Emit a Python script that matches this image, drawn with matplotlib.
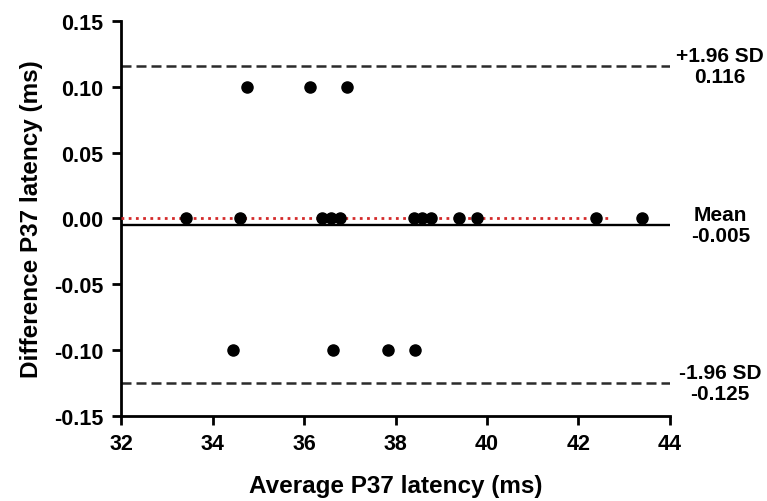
import matplotlib
matplotlib.use("Agg")
import matplotlib.pyplot as plt
import numpy as np

plt.rcParams['font.family'] = ['Liberation Sans', 'DejaVu Sans']
plt.rcParams['font.weight'] = 'bold'
plt.rcParams['axes.unicode_minus'] = False

# Bland-Altman data: mean of the two measurements vs. their difference
avg_latency = [34.75, 36.13, 36.93,
               33.41, 34.59, 36.39, 36.59, 36.79, 38.40, 38.59, 38.78,
               39.39, 39.78, 42.39, 43.38,
               34.44, 36.64, 37.83, 38.43]
diff_latency = [0.10, 0.10, 0.10,
                0.0, 0.0, 0.0, 0.0, 0.0, 0.0, 0.0, 0.0,
                0.0, 0.0, 0.0, 0.0,
                -0.10, -0.10, -0.10, -0.10]

bias = -0.005
upper_loa = 0.116
lower_loa = -0.125
zero_line_end = 42.65

x_ticks = [32, 34, 36, 38, 40, 42, 44]
y_ticks = [-0.15, -0.10, -0.05, 0.00, 0.05, 0.10, 0.15]

fig = plt.figure(figsize=(7.67, 5.02), dpi=100)
ax = fig.add_axes([0.1578, 0.1693, 0.8735 - 0.1578, 0.9562 - 0.1693])

# limits of agreement and bias
ax.plot([32, 44], [upper_loa, upper_loa], color='#2b2b2b', lw=1.8,
        dashes=(4, 2), zorder=2)
ax.plot([32, 44], [lower_loa, lower_loa], color='#2b2b2b', lw=1.8,
        dashes=(4, 2), zorder=2)
ax.plot([32, 44], [bias, bias], color='black', lw=1.7, zorder=2)

# zero-difference reference
ax.plot([32, zero_line_end], [0, 0], color='#d42a2a', lw=2.0,
        linestyle=(0, (1, 1.6)), zorder=3)

ax.plot(avg_latency, diff_latency, 'o', color='black', markersize=8,
        zorder=4, clip_on=False)

ax.set_xlim(32, 44)
ax.set_ylim(-0.15, 0.15)
ax.set_xticks(x_ticks)
ax.set_xticklabels([str(t) for t in x_ticks])
ax.set_yticks(y_ticks)
ax.set_yticklabels([f'{t:.2f}' for t in y_ticks])

for side in ['top', 'right']:
    ax.spines[side].set_visible(False)
for side in ['left', 'bottom']:
    ax.spines[side].set_linewidth(2.0)
ax.tick_params(width=2.0, length=6.5, labelsize=15.5, pad=6)

ax.set_xlabel('Average P37 latency (ms)', fontsize=17.5, fontweight='bold',
              labelpad=14)
ax.set_ylabel('Difference P37 latency (ms)', fontsize=17.5, fontweight='bold',
              labelpad=8)

# labels for the reference lines on the right
note_x = 45.1
ax.text(note_x, upper_loa, '+1.96 SD\n0.116', ha='center', va='center',
        fontsize=15, fontweight='bold', linespacing=1.1, clip_on=False)
ax.text(note_x, bias, 'Mean\n-0.005', ha='center', va='center',
        fontsize=15, fontweight='bold', linespacing=1.1, clip_on=False)
ax.text(note_x, lower_loa, '-1.96 SD\n-0.125', ha='center', va='center',
        fontsize=15, fontweight='bold', linespacing=1.1, clip_on=False)

fig.savefig('out.png', dpi=100)
